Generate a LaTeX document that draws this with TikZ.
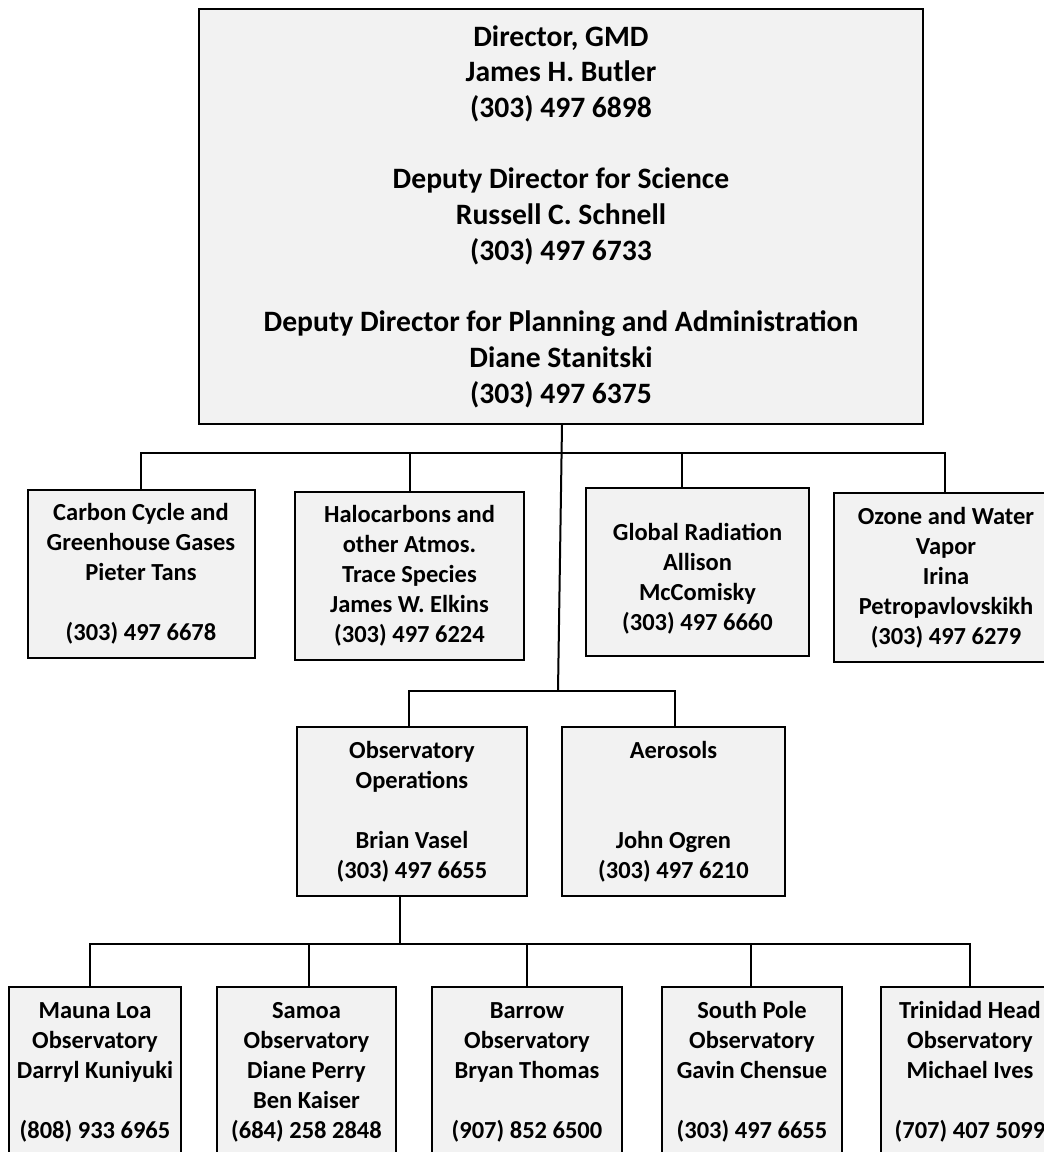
\documentclass[tikz,border=0pt]{standalone}
\usepackage{fontspec}
\setmainfont{Carlito}
\definecolor{boxgray}{HTML}{F2F2F2}
\begin{document}
\begin{tikzpicture}[x=1pt,y=-1pt,
  box/.style={draw, fill=boxgray, line width=2pt, align=center, inner sep=0pt,
    font=\bfseries\fontsize{24.5}{30}\selectfont},
  link/.style={line width=2pt}]
\clip (0,0) rectangle (1044,1152);
\node[box, minimum width=724, minimum height=415,
  font=\bfseries\fontsize{29.6}{35.7}\selectfont] (gmd) at (561,216.5)
  {Director, GMD\\James H. Butler\\(303) 497 6898\\[35.7pt]
   Deputy Director for Science\\Russell C. Schnell\\(303) 497 6733\\[35.7pt]
   Deputy Director for Planning and Administration\\Diane Stanitski\\(303) 497 6375};

\node[box, minimum width=227, minimum height=168] (ccgg) at (141,574)
  {Carbon Cycle and\\Greenhouse Gases\\Pieter Tans\\[30pt](303) 497 6678};
\node[box, minimum width=229, minimum height=168] (halo) at (409.5,576)
  {Halocarbons and\\other Atmos.\\Trace Species\\James W. Elkins\\(303) 497 6224};
\node[box, minimum width=223, minimum height=168] (grad) at (697.5,572)
  {\mbox{}\\Global Radiation\\Allison\\McComisky\\(303) 497 6660};
\node[box, minimum width=224, minimum height=169] (ozwv) at (946,577.5)
  {Ozone and Water\\Vapor\\Irina\\Petropavlovskikh\\(303) 497 6279};

\node[box, minimum width=230, minimum height=169] (obop) at (412,811.5)
  {Observatory\\Operations\\[30pt]Brian Vasel\\(303) 497 6655};
\node[box, minimum width=223, minimum height=169] (aero) at (673.5,811.5)
  {Aerosols\\[60pt]John Ogren\\(303) 497 6210};

\node[box, minimum width=172, minimum height=170] (mlo) at (95,1072)
  {Mauna Loa\\Observatory\\Darryl Kuniyuki\\[30pt](808) 933 6965};
\node[box, minimum width=179, minimum height=170] (smo) at (306.5,1072)
  {Samoa\\Observatory\\Diane Perry\\Ben Kaiser\\(684) 258 2848};
\node[box, minimum width=190, minimum height=170] (brw) at (527,1072)
  {Barrow\\Observatory\\Bryan Thomas\\[30pt](907) 852 6500};
\node[box, minimum width=180, minimum height=170] (spo) at (752,1072)
  {South Pole\\Observatory\\Gavin Chensue\\[30pt](303) 497 6655};
\node[box, minimum width=178, minimum height=170] (thd) at (970,1072)
  {Trinidad Head\\Observatory\\Michael Ives\\[30pt](707) 407 5099};

% bus lines
\coordinate (upL) at (141,453);
\coordinate (upR) at (945,453);
\coordinate (trunk) at (558,691);
\coordinate (midL) at (409,691);
\coordinate (midR) at (675,691);
\coordinate (lowJ) at (399.5,944);
\coordinate (lowL) at (89.5,944);
\coordinate (lowR) at (970,944);

\draw[link] (gmd.south -| 562,0) -- (trunk);
\draw[link] (ccgg.north) -- (upL) -- (upR) -- (ozwv.north -| upR);
\draw[link] (halo.north) -- (halo.north |- upL);
\draw[link] (grad.north -| 682,0) -- (682,453);
\draw[link] (obop.north -| midL) -- (midL) -- (midR) -- (aero.north -| midR);
\draw[link] (obop.south -| lowJ) -- (lowJ);
\draw[link] (mlo.north -| lowL) -- (lowL) -- (lowR) -- (thd.north -| lowR);
\draw[link] (smo.north -| 309,0) -- (309,944);
\draw[link] (brw.north) -- (brw.north |- lowL);
\draw[link] (spo.north -| 751,0) -- (751,944);
\end{tikzpicture}
\end{document}
